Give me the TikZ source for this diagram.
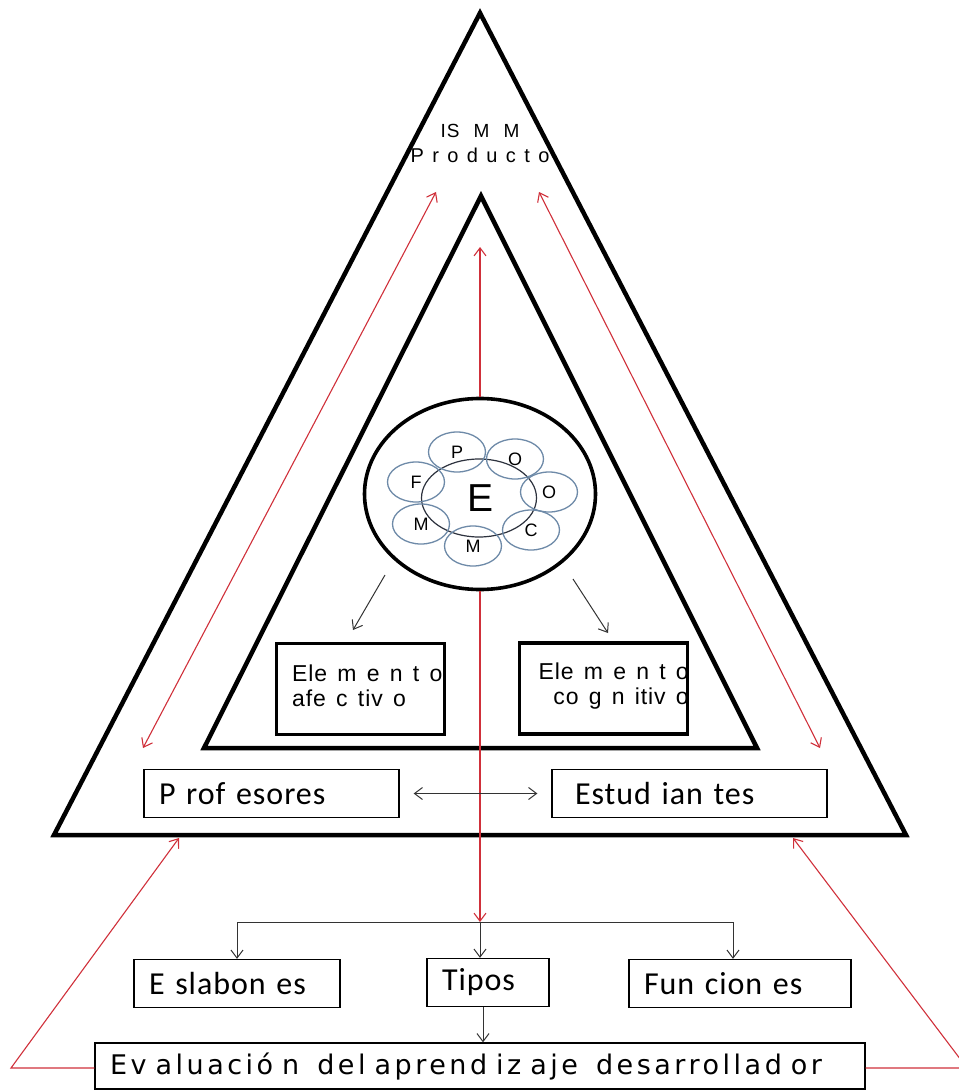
\documentclass[tikz,border=0pt]{standalone}
\usepackage{fontspec}
\setmainfont{Liberation Sans}
\newfontfamily\arialtrack[LetterSpace=4,WordSpace=1.4]{Liberation Sans}
\newfontfamily\arialgap[LetterSpace=6,WordSpace=2.2]{Liberation Sans}
\newfontfamily\arialwide[LetterSpace=42]{Liberation Sans}
\newfontfamily\calibrifont[LetterSpace=3]{Carlito}
\newfontfamily\evalfont[LetterSpace=13,WordSpace=1.9]{DejaVu Sans}
\usetikzlibrary{arrows.meta,shapes.geometric}
\definecolor{linkred}{RGB}{208,48,58}
\definecolor{ringblue}{RGB}{110,138,168}
\definecolor{ringdark}{RGB}{45,50,62}
\newcommand\pxfont[2]{\fontsize{#1}{#2}\selectfont}

\tikzset{
  frame/.style={line width=4.5pt, line join=miter},
  elembox/.style={draw, line width=3.6pt, minimum width=168pt, minimum height=91pt, inner sep=0pt},
  plainbox/.style={draw, line width=1.3pt, inner ysep=0pt, minimum height=48pt, align=left},
  redlink/.style={draw=linkred, line width=1.1pt},
  blacklink/.style={draw=black!80, line width=1pt},
  headend/.style={-{Straight Barb[length=8pt,width=12pt]}},
  headboth/.style={{Straight Barb[length=8pt,width=12pt]}-{Straight Barb[length=8pt,width=12pt]}},
  petal/.style={ellipse, draw=ringblue, line width=1.3pt, minimum width=57pt, minimum height=40pt, inner sep=0pt, font=\pxfont{18}{18}},
  elemtext/.style={inner sep=0pt, font=\arialtrack\pxfont{23}{25}},
  boxfont/.style={font=\calibrifont\pxfont{32}{32}}
}

\begin{document}
\begin{tikzpicture}[x=1pt,y=-1pt]
\useasboundingbox (0,0) rectangle (958,1091);

% outer and inner triangles
\coordinate (oA) at (480,13);
\coordinate (oL) at (54,835);
\coordinate (oR) at (906,835);
\draw[frame] (oA) -- (oL) -- (oR) -- cycle;
\coordinate (iA) at (481,196);
\coordinate (iL) at (204,748);
\coordinate (iR) at (757,748);
\draw[frame] (iA) -- (iL) -- (iR) -- cycle;

\node[align=center, inner sep=0pt, font=\arialgap\pxfont{19}{25}] (ismm) at (480,143) {IS M M\\{\arialwide\pxfont{20}{25}Producto}};

% red links in the outer band
\coordinate (lTop) at (436,192);
\coordinate (lBot) at (143,748);
\draw[redlink, headboth] (lBot) -- (lTop);
\coordinate (rTop) at (539,192);
\coordinate (rBot) at (820,748);
\draw[redlink, headboth] (rBot) -- (rTop);

% central disc
\node[ellipse, draw, line width=3.6pt, fill=white, minimum width=231pt, minimum height=191pt, inner sep=0pt] (core) at (480,494) {};
\coordinate (upTip) at (480,247);
\draw[redlink, headend] (core.north) -- (upTip);
\coordinate (hub) at (480,922);
\draw[redlink, headend] (core.south) -- (hub);

\node[ellipse, draw=ringdark, line width=1.2pt, minimum width=115pt, minimum height=78pt, inner sep=0pt] (ring) at (479,498) {};
\node[inner sep=0pt, font=\pxfont{39}{39}] (bigE) at (480,498) {E};
\node[petal] (pP) at (457,452) {P};
\node[petal] (pO1) at (515,459) {O};
\node[petal] (pO2) at (549,492) {O};
\node[petal] (pC) at (531,530) {C};
\node[petal] (pM1) at (473,546) {M};
\node[petal] (pM2) at (421,524) {M};
\node[petal] (pF) at (416,482) {F};

% affective and cognitive elements
\node[elembox] (afect) at (360.5,689) {};
\node[elembox] (cogn) at (603.5,688.5) {};
\node[elemtext, anchor=west, align=left] (afectT) at (292,686) {Ele m e n t o\\afe c tiv o};
\node[elemtext, anchor=east, align=right] (cognT) at (689,686) {Ele m e n t o\\co g n itiv o};
\coordinate (aS) at (385,575);
\coordinate (aE) at (353,630);
\draw[blacklink, headend] (aS) -- (aE);
\coordinate (cS) at (573,579);
\coordinate (cE) at (608,633);
\draw[blacklink, headend] (cS) -- (cE);

% participants
\node[plainbox, boxfont, text width=225pt, inner xsep=15pt] (prof) at (271.5,793.5) {P rof esores};
\node[plainbox, boxfont, text width=229pt, inner xsep=23pt] (estud) at (689.5,793.5) {Estud ian tes};
\draw[blacklink, headboth] ([xshift=14pt]prof.east) -- ([xshift=-14pt]estud.west);

% evaluation chain
\node[plainbox, minimum height=46pt, text width=740pt, inner xsep=15pt, font=\evalfont\pxfont{27}{27}] (eval) at (480,1066) {Ev aluació n\ \ del aprend iz aje\ \ desarrollad or};
\node[plainbox, boxfont, text width=176pt, inner xsep=15pt] (eslab) at (237,983.5) {E slabon es};
\node[plainbox, boxfont, text width=92pt, inner xsep=15pt] (tipos) at (488,982.5) {Tipos};
\node[plainbox, boxfont, text width=192pt, inner xsep=15pt] (func) at (740,983.5) {Fun cion es};
\draw[blacklink, headend] (hub) -| (eslab.north);
\draw[blacklink, headend] (hub) -| ([xshift=-7pt]func.north);
\draw[blacklink, headend] (hub) -- (hub |- tipos.north);
\draw[blacklink, headend] ([xshift=-5pt]tipos.south) -- ([xshift=-5pt]tipos.south |- eval.north);

% feedback links
\coordinate (lCorner) at (11,1068);
\coordinate (lTip) at (179,838);
\draw[redlink, headend] ([yshift=-2pt]eval.west) -- (lCorner) -- (lTip);
\coordinate (rCorner) at (967,1068);
\coordinate (rTip) at (793,838);
\draw[redlink, headend] ([yshift=-2pt]eval.east) -- (rCorner) -- (rTip);
\end{tikzpicture}
\end{document}
